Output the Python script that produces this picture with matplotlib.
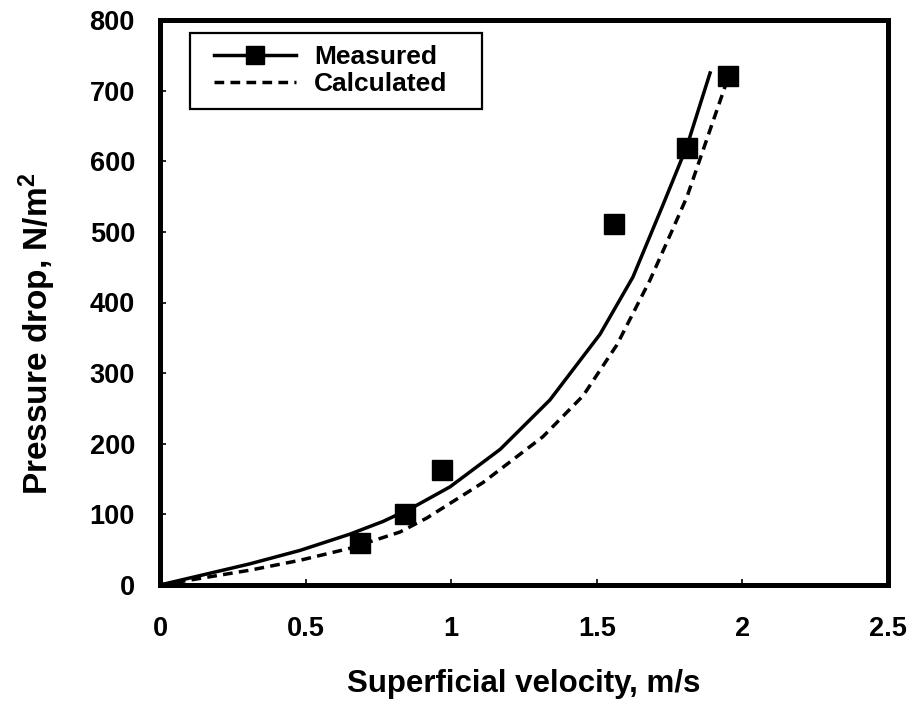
import matplotlib
matplotlib.use("Agg")
import matplotlib.pyplot as plt
from matplotlib.patches import Rectangle

# Measured data points
meas_x = [0.687, 0.841, 0.969, 1.56, 1.81, 1.95]
meas_y = [59, 100, 163, 511, 619, 721]

# Solid curve (measured trend)
solid_x = [0.0, 0.309, 0.481, 0.652, 0.766, 0.869, 0.996, 1.168, 1.339, 1.511,
           1.624, 1.727, 1.81, 1.889]
solid_y = [0, 30, 49, 72, 90, 110, 139, 192, 262, 355, 436, 538, 622, 725]

# Dashed curve (calculated)
calc_x = [0.0, 0.309, 0.481, 0.652, 0.824, 0.917, 1.109, 1.315, 1.453, 1.569,
          1.683, 1.762, 1.81, 1.902, 1.944]
calc_y = [0, 21, 35, 52, 75, 95, 145, 210, 268, 340, 432, 505, 550, 660, 710]

x_ticks = [0, 0.5, 1, 1.5, 2, 2.5]
x_ticklabels = ["0", "0.5", "1", "1.5", "2", "2.5"]
y_ticks = [0, 100, 200, 300, 400, 500, 600, 700, 800]

plt.rcParams['font.family'] = ['Liberation Sans', 'DejaVu Sans']
plt.rcParams['font.weight'] = 'bold'
plt.rcParams['mathtext.fontset'] = 'custom'
plt.rcParams['mathtext.rm'] = 'Liberation Sans:bold'
plt.rcParams['mathtext.default'] = 'rm'

fig = plt.figure(figsize=(9.17, 7.05), dpi=100)
ax = fig.add_axes([160 / 917, 120 / 705, 728 / 917, 565 / 705])

dash = (0, (2.8, 1.8))
ax.plot(solid_x, solid_y, color='black', lw=2.5)
ax.plot(calc_x, calc_y, color='black', lw=2.5, ls=dash)
ax.plot(meas_x, meas_y, ls='none', marker='s', color='black', ms=14.5)

# legend frame drawn separately (wider than the entries)
ax.add_patch(Rectangle((30 / 728, 476 / 565), 292 / 728, 76 / 565,
                       transform=ax.transAxes, facecolor='white',
                       edgecolor='black', lw=1.6, zorder=4))

# legend proxies
h1, = ax.plot([], [], color='black', lw=2.5, marker='s', ms=13)
h2, = ax.plot([], [], color='black', lw=2.5, ls=dash)
leg = ax.legend([h1, h2], ["Measured", "Calculated"], loc='upper left',
                bbox_to_anchor=(42 / 728, 0.977), borderaxespad=0,
                prop={'size': 19, 'weight': 'bold'}, frameon=False,
                handlelength=3.1, borderpad=0.45, labelspacing=0.12,
                handletextpad=0.7)
leg.set_zorder(5)

ax.set_xlim(0, 2.5)
ax.set_ylim(0, 800)
ax.set_xticks(x_ticks)
ax.set_xticklabels(x_ticklabels)
ax.set_yticks(y_ticks)
ax.tick_params(direction='in', length=4.5, width=1.2, labelsize=19.5)
ax.tick_params(axis='x', pad=22)
ax.tick_params(axis='y', pad=18)
for lab in ax.get_xticklabels() + ax.get_yticklabels():
    lab.set_fontweight('bold')
for s in ax.spines.values():
    s.set_linewidth(3.6)
    s.set_zorder(6)

ax.set_xlabel("Superficial velocity, m/s", fontsize=22.5, fontweight='bold')
ax.set_ylabel("Pressure drop, N/m$^2$", fontsize=24, fontweight='bold')
ax.xaxis.set_label_coords(0.5, -0.148)
ax.yaxis.set_label_coords(-0.14, 0.445)

fig.savefig("out.png", dpi=100)
